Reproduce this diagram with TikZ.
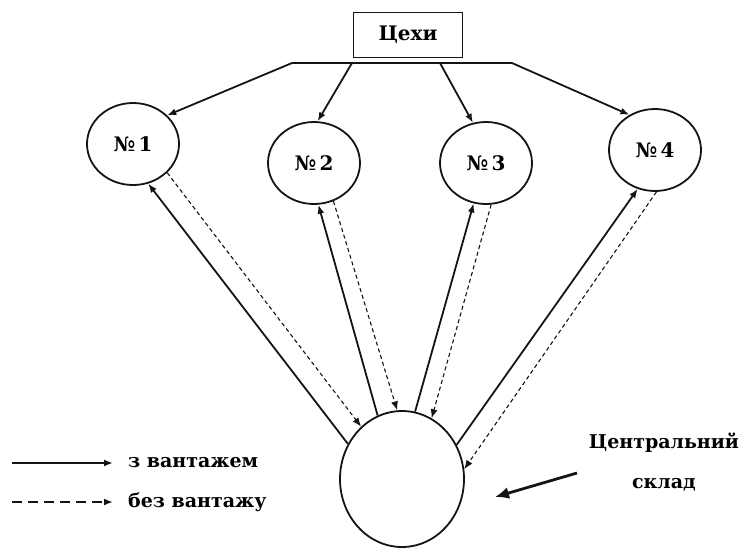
\documentclass[tikz,border=0pt]{standalone}
\usepackage{fontspec}
\setmainfont{DejaVu Serif}
\usepackage{tikz}
\usetikzlibrary{
  arrows.meta,
  shapes.geometric
}
\definecolor{InkBlack}{RGB}{20,20,20}
\tikzset{
  shopnode/.style={draw=InkBlack,ellipse,line width=1.8pt,inner sep=0pt,minimum width=92pt,minimum height=82pt,font=\fontsize{20}{24}\selectfont\bfseries},
  storenode/.style={draw=InkBlack,ellipse,line width=1.8pt,inner sep=0pt,minimum width=124pt,minimum height=136pt},
  headnode/.style={draw=InkBlack,rectangle,line width=1.8pt,inner sep=0pt,minimum width=109pt,minimum height=45pt,font=\fontsize{20}{24}\selectfont\bfseries},
  labeltext/.style={inner sep=0pt,align=center,font=\fontsize{19}{40}\selectfont\bfseries},
  loaded/.style={-{Latex[length=9pt,width=7pt]},line width=1.8pt,draw=InkBlack},
  unloaded/.style={-{Latex[length=9pt,width=7pt]},line width=1.1pt,dash pattern=on 4pt off 3pt,draw=InkBlack},
  pointer/.style={-{Latex[length=14pt,width=12pt]},line width=2.8pt,draw=InkBlack}
}

\begin{document}
\begin{tikzpicture}[x=1pt,y=-1pt]
\useasboundingbox (0,0) rectangle (745,550);

\node[headnode] (shops) at (408,35) {Цехи};
\node[shopnode] (s1) at (133,144) {№\,1};
\node[shopnode] (s2) at (314,163) {№\,2};
\node[shopnode] (s3) at (486,163) {№\,3};
\node[shopnode] (s4) at (655,150) {№\,4};
\node[storenode] (store) at (402,479) {};

\coordinate (barL) at (292,63);
\coordinate (bar2) at (352,63);
\coordinate (bar3) at (440,63);
\coordinate (barR) at (512,63);
\draw[line width=1.8pt,draw=InkBlack] (barL) -- (barR);
\draw[loaded] (barL) -- (s1.40);
\draw[loaded] (bar2) -- (s2.85);
\draw[loaded] (bar3) -- (s3.108);
\draw[loaded] (barR) -- (s4.126);

\draw[loaded] (store.147) -- (s1.-69);
\draw[unloaded] (s1.-40) -- (store.128);
\draw[loaded] (store.111) -- (s2.-84);
\draw[unloaded] (s2.-63) -- (store.94);
\draw[loaded] (store.79) -- (s3.-107);
\draw[unloaded] (s3.-83) -- (store.64);
\draw[loaded] (store.32) -- (s4.-114);
\draw[unloaded] (s4.-88) -- (store.9);

\coordinate (keyA) at (12,463);
\coordinate (keyB) at (113,463);
\coordinate (keyC) at (12,502);
\coordinate (keyD) at (113,502);
\draw[loaded] (keyA) -- (keyB);
\draw[unloaded,line width=1.8pt,dash pattern=on 10pt off 6pt] (keyC) -- (keyD);
\node[labeltext,anchor=west] (keyload) at (128,463) {з вантажем};
\node[labeltext,anchor=west] (keyempty) at (128,502) {без вантажу};

\node[labeltext] (central) at (664,462) {Центральний\\склад};
\coordinate (ptrA) at (577,473);
\coordinate (ptrB) at (495,497);
\draw[pointer] (ptrA) -- (ptrB);
\end{tikzpicture}
\end{document}
